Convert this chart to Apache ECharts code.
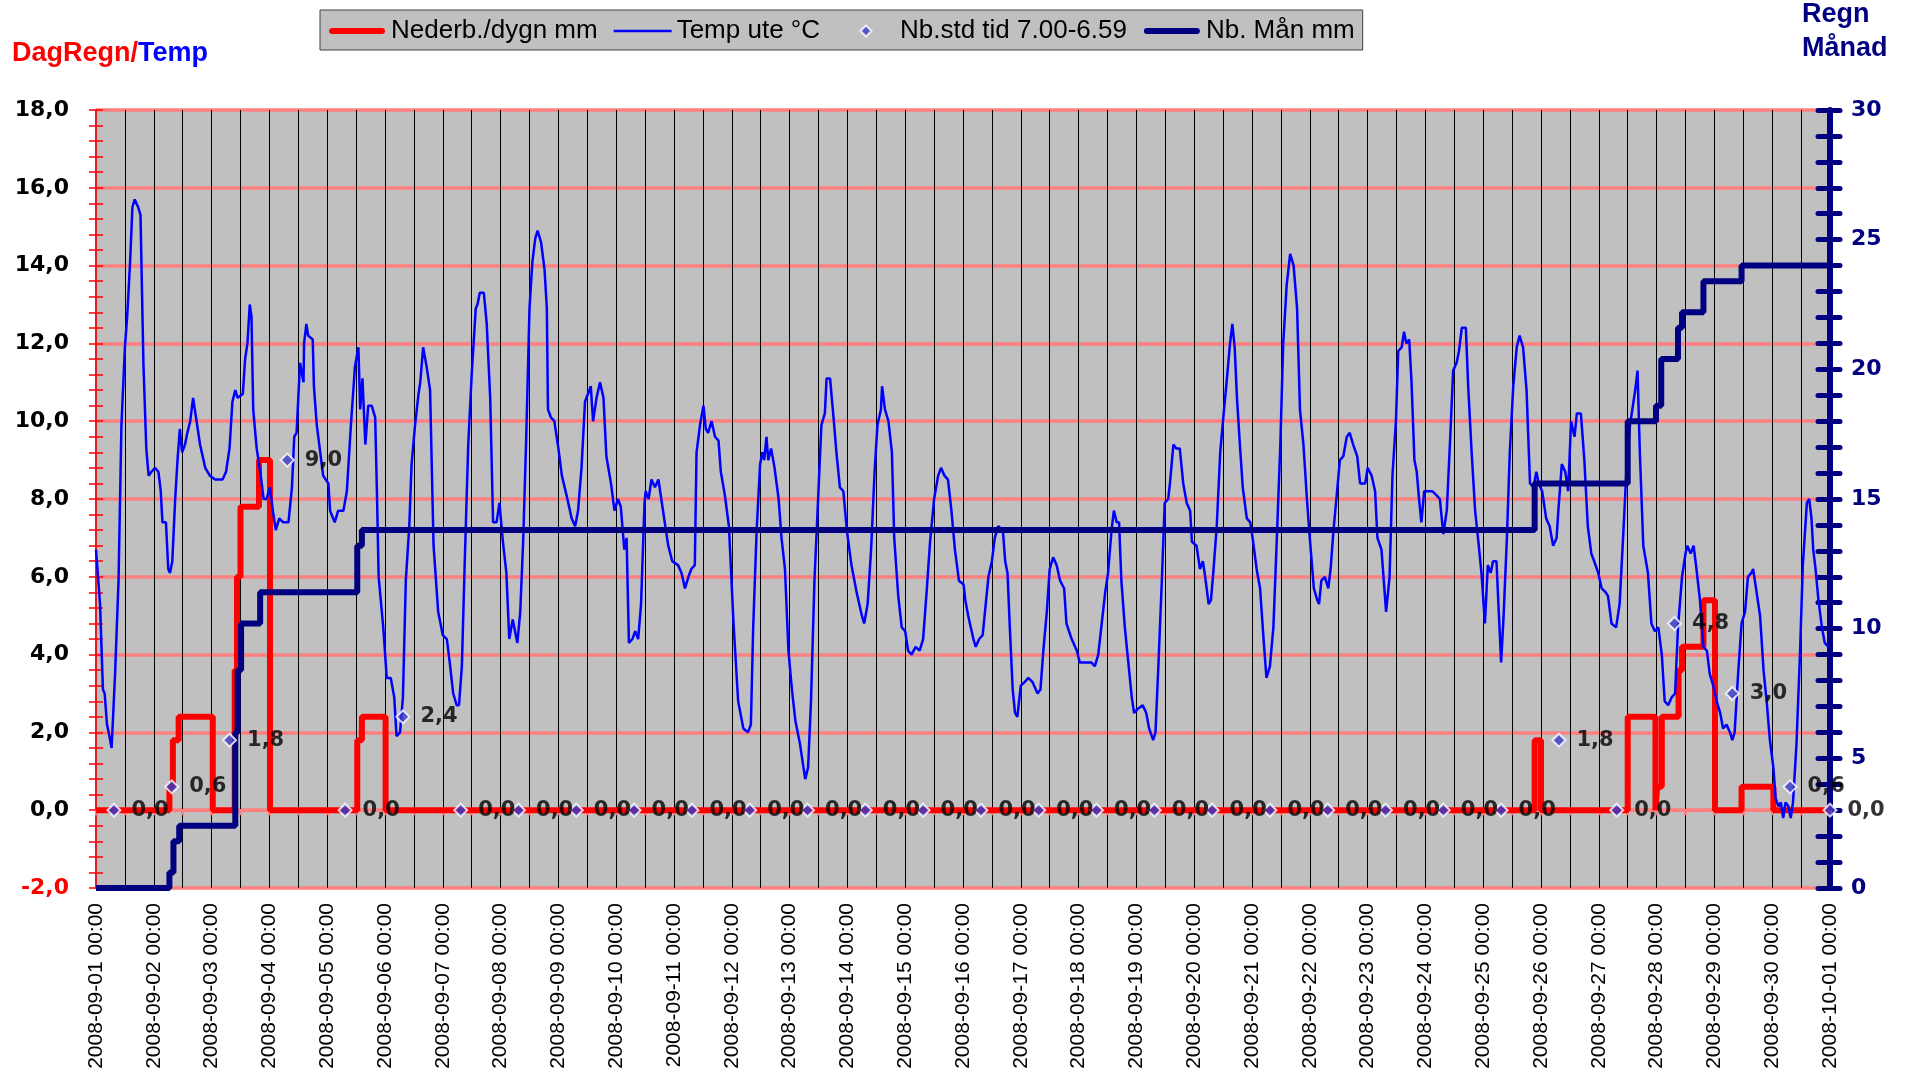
<!DOCTYPE html>
<html>
<head>
<meta charset="utf-8">
<script src="https://cdn.jsdelivr.net/npm/echarts@6/dist/echarts.min.js"></script>
<style>
html,body{margin:0;padding:0;background:#fff;}
#chart{width:1908px;height:1075px;}
</style>
</head>
<body>
<div id="chart"></div>
<script>
// x values are days since 2008-09-01 00:00
const dayCount = 30;

// Temp ute °C  [day, value]
const tempPoints = [
[0.00,6.7],[0.07,5.3],[0.12,3.1],[0.15,3.0],[0.19,2.2],[0.22,2.0],[0.27,1.6],[0.33,3.5],[0.39,5.9],[0.44,9.9],
[0.50,11.9],[0.54,12.7],[0.59,14.1],[0.63,15.5],[0.67,15.7],[0.73,15.5],[0.77,15.3],[0.82,11.5],[0.87,9.3],[0.91,8.6],
[0.96,8.7],[1.02,8.8],[1.08,8.7],[1.12,8.2],[1.15,7.4],[1.21,7.4],[1.25,6.2],[1.28,6.1],[1.32,6.4],[1.37,8.0],
[1.41,9.0],[1.45,9.8],[1.49,9.2],[1.54,9.4],[1.58,9.7],[1.63,10.0],[1.68,10.6],[1.73,10.1],[1.80,9.4],[1.89,8.8],
[1.97,8.6],[2.06,8.5],[2.19,8.5],[2.25,8.7],[2.31,9.3],[2.36,10.5],[2.41,10.8],[2.45,10.6],[2.54,10.7],[2.58,11.6],
[2.62,12.0],[2.66,13.0],[2.69,12.7],[2.72,10.3],[2.78,9.3],[2.85,8.6],[2.90,8.0],[2.95,8.0],[3.01,8.3],[3.06,7.7],
[3.11,7.2],[3.17,7.5],[3.24,7.4],[3.33,7.4],[3.39,8.3],[3.43,9.6],[3.47,9.7],[3.53,11.5],[3.59,11.0],[3.60,12.0],
[3.64,12.5],[3.67,12.2],[3.75,12.1],[3.77,10.9],[3.82,9.9],[3.93,8.6],[4.02,8.4],[4.05,7.7],[4.13,7.4],[4.19,7.7],
[4.28,7.7],[4.34,8.2],[4.41,9.9],[4.48,11.4],[4.54,11.9],[4.57,10.3],[4.61,11.1],[4.66,9.4],[4.71,10.4],[4.77,10.4],
[4.83,10.1],[4.86,8.2],[4.89,6.0],[4.97,4.7],[5.03,3.4],[5.10,3.4],[5.16,2.9],[5.20,1.9],[5.26,2.0],[5.31,2.9],
[5.36,5.9],[5.42,7.3],[5.46,8.9],[5.52,9.9],[5.58,10.7],[5.61,11.0],[5.66,11.9],[5.72,11.4],[5.78,10.8],[5.84,6.8],
[5.92,5.1],[6.00,4.5],[6.07,4.4],[6.12,3.8],[6.18,3.0],[6.24,2.7],[6.28,2.7],[6.33,3.7],[6.38,6.4],[6.44,9.4],
[6.50,11.2],[6.57,12.9],[6.60,13.0],[6.64,13.3],[6.71,13.3],[6.76,12.5],[6.82,10.6],[6.87,7.4],[6.93,7.4],[6.98,7.9],
[7.04,6.9],[7.10,6.1],[7.15,4.4],[7.21,4.9],[7.29,4.3],[7.34,5.1],[7.39,6.9],[7.44,9.4],[7.50,12.9],[7.55,14.1],
[7.60,14.7],[7.64,14.9],[7.70,14.6],[7.76,13.9],[7.80,12.9],[7.82,10.3],[7.87,10.1],[7.93,10.0],[8.00,9.3],[8.06,8.6],
[8.14,8.1],[8.23,7.5],[8.29,7.3],[8.34,7.7],[8.40,8.8],[8.46,10.5],[8.51,10.7],[8.56,10.9],[8.60,10.0],[8.66,10.6],
[8.72,11.0],[8.78,10.6],[8.83,9.1],[8.91,8.4],[8.97,7.7],[9.03,8.0],[9.08,7.8],[9.14,6.7],[9.18,7.0],[9.22,4.3],
[9.28,4.4],[9.33,4.6],[9.38,4.4],[9.43,5.3],[9.49,7.9],[9.51,8.2],[9.56,8.0],[9.61,8.5],[9.67,8.3],[9.73,8.5],
[9.78,8.0],[9.84,7.4],[9.90,6.8],[9.97,6.4],[10.07,6.3],[10.13,6.1],[10.19,5.7],[10.25,6.0],[10.30,6.2],[10.36,6.3],
[10.39,9.2],[10.45,9.9],[10.51,10.4],[10.55,9.8],[10.59,9.7],[10.65,10.0],[10.71,9.6],[10.77,9.5],[10.81,8.7],[10.88,8.1],
[10.95,7.3],[11.03,4.8],[11.11,2.8],[11.20,2.1],[11.28,2.0],[11.33,2.2],[11.37,4.7],[11.43,7.2],[11.49,8.9],[11.53,9.2],
[11.56,9.0],[11.60,9.6],[11.63,9.0],[11.68,9.3],[11.74,8.8],[11.81,8.0],[11.86,7.0],[11.92,6.2],[11.98,4.1],[12.04,3.1],
[12.10,2.3],[12.18,1.7],[12.27,0.8],[12.32,1.1],[12.37,2.8],[12.43,5.9],[12.49,7.9],[12.55,9.9],[12.61,10.2],[12.64,11.1],
[12.70,11.1],[12.76,10.1],[12.81,9.2],[12.87,8.3],[12.93,8.2],[12.99,7.2],[13.07,6.3],[13.16,5.6],[13.25,5.0],[13.29,4.8],
[13.35,5.3],[13.41,6.7],[13.47,8.7],[13.52,9.9],[13.58,10.3],[13.60,10.9],[13.65,10.3],[13.71,10.0],[13.77,9.2],[13.81,7.0],
[13.88,5.5],[13.94,4.7],[14.00,4.6],[14.05,4.1],[14.11,4.0],[14.18,4.2],[14.25,4.1],[14.31,4.4],[14.37,5.6],[14.43,6.9],
[14.50,8.0],[14.57,8.6],[14.62,8.8],[14.68,8.6],[14.74,8.5],[14.80,7.7],[14.86,6.7],[14.93,5.9],[15.01,5.8],[15.04,5.4],
[15.09,5.0],[15.18,4.4],[15.22,4.2],[15.28,4.4],[15.34,4.5],[15.38,5.1],[15.44,6.0],[15.50,6.4],[15.55,7.0],[15.61,7.3],
[15.69,7.2],[15.73,6.4],[15.77,6.1],[15.81,4.7],[15.86,3.1],[15.90,2.5],[15.94,2.4],[16.00,3.2],[16.07,3.3],[16.13,3.4],
[16.20,3.3],[16.29,3.0],[16.34,3.1],[16.39,4.1],[16.45,5.1],[16.50,6.2],[16.56,6.5],[16.62,6.3],[16.68,5.9],[16.75,5.7],
[16.79,4.8],[16.88,4.4],[16.97,4.1],[17.02,3.8],[17.14,3.8],[17.22,3.8],[17.28,3.7],[17.34,4.0],[17.40,4.8],[17.46,5.6],
[17.51,6.1],[17.57,7.2],[17.61,7.7],[17.66,7.4],[17.70,7.4],[17.74,5.9],[17.80,4.7],[17.86,3.8],[17.92,2.9],[17.96,2.5],
[18.02,2.6],[18.11,2.7],[18.17,2.5],[18.22,2.1],[18.29,1.8],[18.33,2.0],[18.38,3.7],[18.44,5.9],[18.49,7.9],[18.55,8.0],
[18.58,8.4],[18.64,9.4],[18.69,9.3],[18.75,9.3],[18.81,8.4],[18.87,7.9],[18.93,7.7],[18.96,6.9],[19.04,6.8],[19.10,6.2],
[19.15,6.4],[19.19,6.0],[19.25,5.3],[19.29,5.4],[19.33,6.1],[19.39,7.3],[19.45,9.2],[19.51,10.2],[19.56,11.0],[19.62,12.0],
[19.66,12.5],[19.70,11.9],[19.74,10.6],[19.79,9.4],[19.84,8.3],[19.91,7.5],[19.97,7.4],[20.02,6.9],[20.08,6.2],[20.14,5.7],
[20.20,4.4],[20.25,3.4],[20.31,3.7],[20.37,4.7],[20.43,7.0],[20.49,9.4],[20.54,12.0],[20.60,13.5],[20.66,14.3],[20.72,14.0],
[20.78,12.9],[20.83,10.3],[20.89,9.4],[20.95,8.0],[21.00,7.0],[21.07,5.7],[21.13,5.4],[21.16,5.3],[21.20,5.9],[21.26,6.0],
[21.32,5.7],[21.36,6.2],[21.41,7.2],[21.46,8.0],[21.52,9.0],[21.58,9.1],[21.64,9.6],[21.69,9.7],[21.75,9.4],[21.82,9.1],
[21.87,8.4],[21.96,8.4],[22.00,8.8],[22.07,8.6],[22.13,8.2],[22.17,7.0],[22.24,6.7],[22.32,5.1],[22.38,6.0],[22.43,8.6],
[22.49,10.0],[22.53,11.8],[22.59,11.9],[22.63,12.3],[22.67,12.0],[22.72,12.1],[22.76,11.0],[22.81,9.0],[22.85,8.7],[22.89,8.0],
[22.93,7.4],[22.98,8.2],[23.05,8.2],[23.12,8.2],[23.19,8.1],[23.25,8.0],[23.31,7.1],[23.37,7.7],[23.43,9.6],[23.48,11.3],
[23.54,11.5],[23.58,11.8],[23.63,12.4],[23.70,12.4],[23.74,10.9],[23.80,9.2],[23.86,7.7],[23.91,7.0],[23.97,6.1],[24.03,4.8],
[24.08,6.3],[24.13,6.1],[24.17,6.4],[24.23,6.4],[24.26,5.4],[24.31,3.8],[24.35,4.9],[24.41,7.0],[24.46,9.2],[24.52,10.9],
[24.58,11.9],[24.63,12.2],[24.69,11.9],[24.75,10.8],[24.81,8.4],[24.87,8.3],[24.92,8.7],[24.96,8.4],[25.02,8.2],[25.09,7.5],
[25.15,7.3],[25.21,6.8],[25.27,7.0],[25.30,7.7],[25.36,8.9],[25.42,8.7],[25.47,8.2],[25.52,10.0],[25.58,9.6],[25.62,10.2],
[25.69,10.2],[25.75,9.0],[25.81,7.3],[25.87,6.6],[25.92,6.4],[25.99,6.1],[26.05,5.7],[26.12,5.6],[26.16,5.5],[26.22,4.8],
[26.30,4.7],[26.36,5.3],[26.42,7.0],[26.48,8.8],[26.54,9.9],[26.60,10.5],[26.63,10.8],[26.67,11.3],[26.71,9.2],[26.77,6.8],
[26.85,6.1],[26.91,4.8],[26.97,4.6],[27.03,4.7],[27.09,4.0],[27.14,2.8],[27.20,2.7],[27.26,2.9],[27.32,3.0],[27.37,4.7],
[27.44,6.0],[27.50,6.6],[27.53,6.8],[27.59,6.6],[27.64,6.8],[27.69,6.2],[27.75,5.4],[27.81,4.2],[27.87,4.1],[27.92,3.5],
[27.98,3.2],[28.04,2.8],[28.10,2.5],[28.15,2.1],[28.21,2.2],[28.27,2.0],[28.31,1.8],[28.35,2.0],[28.41,3.5],[28.47,4.8],
[28.53,5.1],[28.58,6.0],[28.64,6.1],[28.67,6.2],[28.73,5.6],[28.79,5.0],[28.85,3.6],[28.91,2.7],[28.96,1.8],[29.02,1.1],
[29.06,0.3],[29.11,0.1],[29.15,0.2],[29.19,-0.2],[29.23,0.2],[29.28,0.1],[29.32,-0.2],[29.36,0.2],[29.42,1.7],[29.48,4.0],
[29.53,6.3],[29.60,7.9],[29.64,8.0],[29.68,7.5],[29.71,6.7],[29.75,6.2],[29.80,5.4],[29.86,4.7],[29.91,4.3],[29.97,4.2]
];

// Nederb./dygn mm  [day, value held from that time]
const dailyRainPoints = [
[0,0],[1.27,0.6],[1.33,1.8],[1.43,2.4],[2.02,0],[2.40,3.6],[2.44,6.0],[2.50,7.8],[2.82,9.0],[3.01,0],
[4.52,1.8],[4.60,2.4],[5.01,0],[24.89,1.8],[25.00,0],[26.50,2.4],[26.98,0],[27.01,0.6],[27.09,2.4],
[27.38,3.6],[27.44,4.2],[27.81,5.4],[28.01,0],[28.47,0.6],[29.02,0],[30,0]
];

// Nb.std tid 7.00-6.59 (one value per day)
const stdDays = [0.31,1.31,2.31,3.31,4.31,5.31,6.31,7.31,8.31,9.31,10.31,11.31,12.31,13.31,14.31,15.31,16.31,17.31,18.31,19.31,20.31,21.31,22.31,23.31,24.31,25.31,26.31,27.31,28.31,29.31,30.00];
const stdValues = [0.0,0.6,1.8,9.0,0.0,2.4,0.0,0.0,0.0,0.0,0.0,0.0,0.0,0.0,0.0,0.0,0.0,0.0,0.0,0.0,0.0,0.0,0.0,0.0,0.0,1.8,0.0,4.8,3.0,0.6,0.0];

// Nb. Mån mm  [day, value held from that time]
const monthRainPoints = [
[0,0],[1.27,0.6],[1.34,1.8],[1.44,2.4],[2.41,6.0],[2.45,8.4],[2.51,10.2],[2.84,11.4],
[4.52,13.2],[4.60,13.8],[24.89,15.6],[26.50,18.0],[26.99,18.6],[27.08,20.4],[27.37,21.6],[27.44,22.2],
[27.81,23.4],[28.47,24.0],[30,24.0]
];

const leftTicks = {min: -2, max: 18, interval: 2};
const rightTicks = {min: 0, max: 30, interval: 5};

const BOLD_FONT = 'DejaVu Sans';
const FONT = 'Liberation Sans';
const comma = v => v.toFixed(1).replace('.', ',');
const pad = n => (n < 10 ? '0' : '') + n;
const dayLabel = v => {
  const d = new Date(Date.UTC(2008, 8, 1 + Math.round(v)));
  return d.getUTCFullYear() + '-' + pad(d.getUTCMonth() + 1) + '-' + pad(d.getUTCDate()) + ' 00:00';
};

// legend icons (58 x 14 box)
const thickLineIcon = 'path://M0,0M58,14M4,4L54,4A3,3,0,0,1,54,10L4,10A3,3,0,0,1,4,4Z';
const thinLineIcon = 'path://M0,0M58,14M0,5.8L58,5.8L58,8.2L0,8.2Z';
const diamondIcon = 'path://M0,0M58,14M23.5,7L29,1.5L34.5,7L29,12.5Z';

const chart = echarts.init(document.getElementById('chart'));
chart.setOption({
  animation: false,
  backgroundColor: '#ffffff',
  title: [
    { text: '{r|DagRegn/}{b|Temp}', left: 12, top: 40, padding: 0,
      textStyle: { rich: {
        r: { color: '#FF0000', fontSize: 27, fontWeight: 'bold', fontFamily: FONT },
        b: { color: '#0000FF', fontSize: 27, fontWeight: 'bold', fontFamily: FONT }
      } } },
    { text: 'Regn\nMånad', left: 1802, top: -2, padding: 0,
      textStyle: { color: '#000080', fontSize: 27, fontWeight: 'bold', fontFamily: FONT, lineHeight: 34 } }
  ],
  legend: {
    left: 320, top: 10, padding: [8, 8, 6, 8], itemWidth: 58, itemHeight: 14, itemGap: 16,
    backgroundColor: '#C0C0C0', borderColor: '#404040', borderWidth: 1, borderRadius: 0,
    selectedMode: false,
    textStyle: { fontSize: 26, fontFamily: FONT, color: '#000' },
    data: [
      { name: 'Nederb./dygn mm', icon: thickLineIcon, itemStyle: { color: '#FF0000', borderWidth: 0 } },
      { name: 'Temp ute °C', icon: thinLineIcon, itemStyle: { color: '#0000FF', borderWidth: 0 } },
      { name: 'Nb.std tid 7.00-6.59', icon: diamondIcon, itemStyle: { color: '#3838C8', borderColor: '#FFFFFF', borderWidth: 2 } },
      { name: 'Nb. Mån mm', icon: thickLineIcon, itemStyle: { color: '#000080', borderWidth: 0 } }
    ]
  },
  grid: { left: 96, right: 78, top: 110, bottom: 187, show: true, backgroundColor: '#C0C0C0', borderWidth: 0 },
  xAxis: [
    { type: 'value', min: 0, max: dayCount, interval: 1, position: 'bottom',
      axisLine: { show: false, onZero: false }, axisTick: { show: false },
      splitLine: { show: false },
      axisLabel: { rotate: 90, margin: 15, fontSize: 21, fontFamily: FONT, color: '#000', formatter: dayLabel } },
    { type: 'value', min: 0, max: dayCount, interval: 0.5, position: 'bottom',
      axisLine: { show: true, onZero: true, onZeroAxisIndex: 0, lineStyle: { color: '#FF8080', width: 3 } },
      axisTick: { show: true, length: 5, lineStyle: { color: '#FF8080', width: 3 } },
      axisLabel: { show: false },
      splitLine: { show: true, lineStyle: { color: '#000000', width: 1 } } }
  ],
  yAxis: [
    { type: 'value', min: leftTicks.min, max: leftTicks.max, interval: leftTicks.interval, position: 'left',
      axisLine: { show: true, onZero: false, lineStyle: { color: '#E02020', width: 2 } },
      axisTick: { show: true, length: 7, lineStyle: { color: '#FF0000', width: 1.5 } },
      minorTick: { show: true, splitNumber: 5, length: 7, lineStyle: { color: '#FF0000', width: 1.5 } },
      axisLabel: { margin: 27, fontSize: 22, fontWeight: 'bold', fontFamily: BOLD_FONT,
        color: v => (v < 0 ? '#FF0000' : '#000000'), formatter: comma },
      splitLine: { show: true, lineStyle: { color: '#FF8080', width: 3.5 } } },
    { type: 'value', min: rightTicks.min, max: rightTicks.max, interval: rightTicks.interval, position: 'right',
      axisLine: { show: true, onZero: false, lineStyle: { color: '#000080', width: 6, cap: 'round' } },
      axisTick: { show: true, length: 10, lineStyle: { color: '#000080', width: 5, cap: 'round' } },
      minorTick: { show: true, splitNumber: 5, length: 10, lineStyle: { color: '#000080', width: 5, cap: 'round' } },
      axisLabel: { margin: 21, fontSize: 22, fontWeight: 'bold', fontFamily: BOLD_FONT, color: '#000080' },
      splitLine: { show: false } },
    { type: 'value', min: leftTicks.min, max: leftTicks.max, interval: leftTicks.interval, position: 'left',
      axisLine: { show: false, onZero: false },
      axisTick: { show: true, inside: true, length: 7, lineStyle: { color: '#FF0000', width: 1.5 } },
      minorTick: { show: true, splitNumber: 5, length: 7, lineStyle: { color: '#FF0000', width: 1.5 } },
      axisLabel: { show: false }, splitLine: { show: false } },
    { type: 'value', min: rightTicks.min, max: rightTicks.max, interval: rightTicks.interval, position: 'right',
      axisLine: { show: false, onZero: false },
      axisTick: { show: true, inside: true, length: 12, lineStyle: { color: '#000080', width: 5, cap: 'round' } },
      minorTick: { show: true, splitNumber: 5, length: 12, lineStyle: { color: '#000080', width: 5, cap: 'round' } },
      axisLabel: { show: false }, splitLine: { show: false } }
  ],
  series: [
    { name: 'Nederb./dygn mm', type: 'line', xAxisIndex: 0, yAxisIndex: 0, step: 'end',
      data: dailyRainPoints, symbol: 'none', z: 3,
      lineStyle: { color: '#FF0000', width: 6 }, itemStyle: { color: '#FF0000' } },
    { name: 'Temp ute °C', type: 'line', xAxisIndex: 0, yAxisIndex: 0,
      data: tempPoints, symbol: 'none', z: 4,
      lineStyle: { color: '#0000FF', width: 2.5 }, itemStyle: { color: '#0000FF' } },
    { name: 'Nb.std tid 7.00-6.59', type: 'scatter', xAxisIndex: 0, yAxisIndex: 0, z: 6,
      data: stdDays.map((d, i) => [d, stdValues[i]]),
      symbol: 'diamond', symbolSize: 13,
      itemStyle: { color: '#3838C8', borderColor: '#FFFFFF', borderWidth: 2 },
      label: { show: true, position: 'right', distance: 10, color: '#000000', fontSize: 21,
        fontWeight: 'bold', fontFamily: BOLD_FONT, formatter: p => comma(p.value[1]) } },
    { name: 'Nb. Mån mm', type: 'line', xAxisIndex: 0, yAxisIndex: 1, step: 'end',
      data: monthRainPoints, symbol: 'none', z: 5,
      lineStyle: { color: '#000080', width: 6 }, itemStyle: { color: '#000080' } }
  ]
});
</script>
</body>
</html>
